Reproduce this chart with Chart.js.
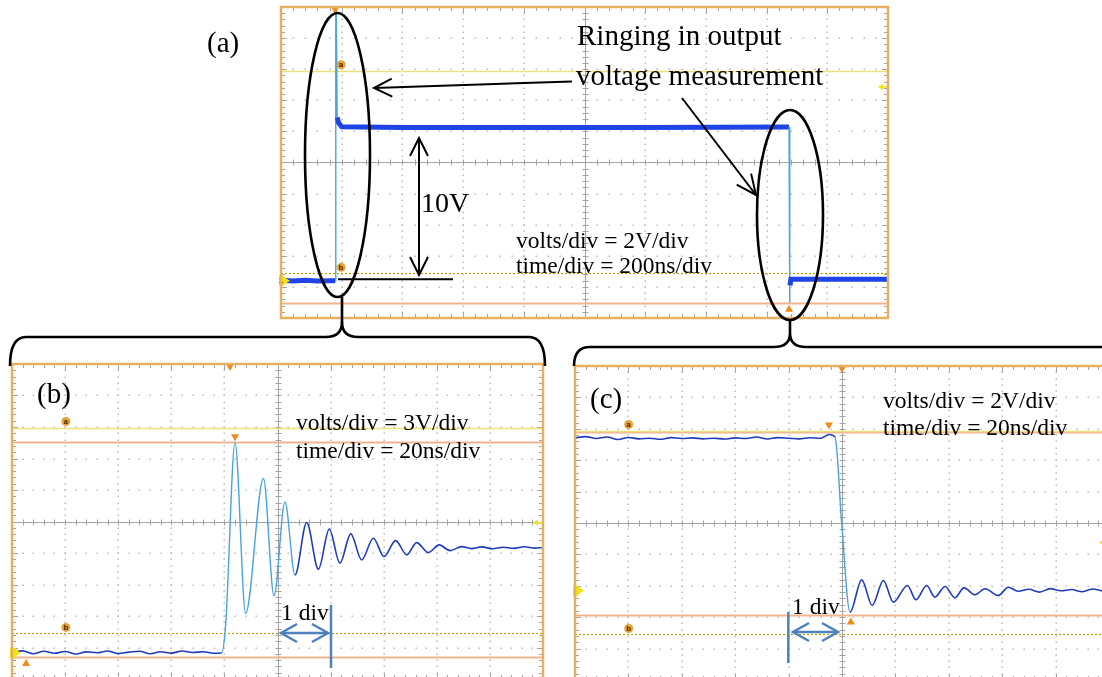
<!DOCTYPE html>
<html>
<head>
<meta charset="utf-8">
<script src="https://cdn.jsdelivr.net/npm/chart.js@4.4.0/dist/chart.umd.min.js"></script>
<style>
  html, body { margin: 0; padding: 0; background: #fff; }
  body { width: 1102px; height: 677px; position: relative; overflow: hidden; }
  canvas { position: absolute; }
  #ann { position: absolute; left: 0; top: 0; }
  #ann text { font-family: "Liberation Serif", "Times New Roman", serif; fill: #000; }
</style>
</head>
<body>
<canvas id="scopeA" width="611" height="315" style="left:279px;top:5px"></canvas>
<canvas id="scopeB" width="535" height="319" style="left:10px;top:362px"></canvas>
<canvas id="scopeC" width="538" height="318" style="left:573px;top:364px"></canvas>

<svg id="ann" width="1102" height="677">
  <g fill="none" stroke="#000" stroke-width="2.6">
    <ellipse cx="337.5" cy="155" rx="32.5" ry="142"/>
    <ellipse cx="790" cy="215" rx="33" ry="105"/>
    <path d="M342 297 V323"/>
    <path d="M10 366 Q10 337 26 337 H326 Q342 337 342 322 Q342 337 358 337 H529 Q545 337 545 366"/>
    <path d="M790 320 V333"/>
    <path d="M574 366 Q574 347 590 347 H774 Q790 347 790 333 Q790 347 806 347 H1110"/>
  </g>
  <g fill="none" stroke="#000" stroke-width="2">
    <path d="M572 81.5 L374 88"/>
    <path d="M391.7 78.6 L374 88 L392.3 96.6"/>
    <path d="M682 98 L756 195"/>
    <path d="M736.7 184.6 L756 195 L751.1 173.6"/>
    <path d="M419 138 V275"/>
    <path d="M410 156 L419 138 L428 156"/>
    <path d="M410 257 L419 275 L428 257"/>
    <path d="M338 279.3 H453"/>
  </g>
  <g fill="none" stroke="#4f81bd" stroke-width="2.5">
    <path d="M331 605 V668"/>
    <path d="M281 633 H328"/>
    <path d="M297 624 L281 633 L297 642"/>
    <path d="M312 624 L328 633 L312 642"/>
    <path d="M788.3 612 V663"/>
    <path d="M793 632 H838"/>
    <path d="M809 623 L793 632 L809 641"/>
    <path d="M822 623 L838 632 L822 641"/>
  </g>
  <text x="207" y="52" font-size="29">(a)</text>
  <text x="577" y="45" font-size="29">Ringing in output</text>
  <text x="576" y="85" font-size="29">voltage measurement</text>
  <text x="421" y="212" font-size="28">10V</text>
  <text x="516" y="248" font-size="23.5">volts/div = 2V/div</text>
  <text x="516" y="273" font-size="23.5">time/div = 200ns/div</text>
  <text x="37" y="403" font-size="29">(b)</text>
  <text x="296" y="430" font-size="23.5">volts/div = 3V/div</text>
  <text x="296" y="458" font-size="23.5">time/div = 20ns/div</text>
  <text x="281" y="620" font-size="23.5">1 div</text>
  <text x="590" y="408" font-size="29">(c)</text>
  <text x="883" y="408" font-size="23.5">volts/div = 2V/div</text>
  <text x="883" y="435" font-size="23.5">time/div = 20ns/div</text>
  <text x="792" y="614" font-size="23.5">1 div</text>
</svg>

<script>
// (a) whole pulse: time in ns (200 ns/div), volts (2 V/div)
const aTime = [0, 40, 80, 120, 160, 179, 180.5, 183.5, 185, 190, 200, 400, 800, 1200, 1674, 1675.5, 1677, 1680, 1700, 2000];
const aVolt = [0.02, -0.02, 0.03, -0.02, 0, 0, 20, 14.3, 10.5, 10.15, 9.9, 9.85, 9.85, 9.85, 9.88, -1.4, -0.3, 0.1, 0.1, 0.1];

// (b) rising edge: 20 ns/div, 3 V/div
const bTime = [0, 4, 8, 12, 16, 20, 24, 28, 32, 36, 40, 44, 48, 52, 56, 60, 64, 68, 72, 76,
  79, 80.5, 84, 88, 94.7, 98.7, 102.8, 106.6, 111, 115.4, 119.5, 123.5, 127.6, 131.7, 136.1, 140.1,
  144.5, 148.7, 152.4, 156.8, 160.9, 165, 169.4, 173, 177, 181, 185, 189, 193, 197, 200];
const bVolt = [0.05, 0.18, -0.1, 0.15, -0.05, 0.12, -0.12, 0.08, 0, 0.16, -0.08, 0.06, 0.14, -0.1, 0.1, -0.04, 0.16, 0.02, 0.1, -0.05,
  0, 2.8, 20, 3.75, 16.6, 5.43, 14.35, 7.41, 12.4, 7.95, 11.77, 8.53, 11.32, 8.84, 10.91, 9.16,
  10.68, 9.32, 10.49, 9.54, 10.27, 9.73, 10.11, 9.92, 10.08, 9.9, 10.05, 9.94, 10.1, 9.96, 10.02];

// (c) falling edge: 20 ns/div, 2 V/div
const cTime = [0, 4, 8, 12, 16, 20, 24, 28, 32, 36, 40, 44, 48, 52, 56, 60, 64, 68, 72, 76, 80, 84, 88, 92,
  95.2, 97.4, 99.9, 103, 107.4, 111.3, 115.5, 119.2, 124.5, 127.7, 131.7, 134.8, 138.6, 142.3, 145.7,
  149.8, 153.6, 158.5, 162.3, 166, 170, 174, 178, 182, 186, 190, 194, 198, 200];
const cVolt = [9.72, 9.8, 9.68, 9.78, 9.62, 9.75, 9.66, 9.7, 9.63, 9.74, 9.68, 9.72, 9.66, 9.7, 9.65, 9.72, 9.68, 9.78, 9.65, 9.74, 9.7, 9.66, 9.73, 9.7,
  9.94, 9.77, 4.25, -1.38, 0.68, -0.95, 0.64, -0.74, 0.32, -0.59, 0.32, -0.42, 0.26, -0.46, 0.17,
  -0.27, 0.11, -0.32, 0.21, -0.05, 0.08, -0.1, 0.12, -0.02, 0.06, -0.08, 0.1, -0.04, 0.02];

// screen ranges (10 div each way)
const aRange = { x: [0, 2000], y: [-2.4, 17.6] };
const bRange = { x: [0, 200], y: [-2.5, 27.5] };
const cRange = { x: [0, 200], y: [-5.7, 14.3] };

// cursor levels (V)
const aCursors = { solid: [13.5], orange: [-1.42], dotted: [0.47] };
const bCursors = { solid: [21.45], orange: [20.05, -0.4], dotted: [1.84] };
const cCursors = { solid: [10.19], orange: [10.08, -1.59], dotted: [-2.8] };

const C = {
  fast: '#4aa4da', slow: '#1f3cbc', slowA: '#1f44e6',
  yellow: '#ede27a', dotted: '#b3a300', orange: '#f2b390', tri: '#f08a1c',
  tag: '#e8a23a', frame: '#e6b062', dot: '#bcbcbc', axis: '#a2a2a2'
};

const toXY = (xs, ys) => xs.map((t, i) => ({ x: t, y: ys[i] }));
const steep = c => Math.abs(c.p1.y - c.p0.y) > 6 * Math.abs(c.p1.x - c.p0.x) + 4;

function tri(ctx, x, y, up) {
  ctx.fillStyle = C.tri;
  ctx.beginPath();
  if (up) { ctx.moveTo(x - 4, y + 3); ctx.lineTo(x + 4, y + 3); ctx.lineTo(x, y - 4); }
  else { ctx.moveTo(x - 4, y - 3); ctx.lineTo(x + 4, y - 3); ctx.lineTo(x, y + 4); }
  ctx.closePath(); ctx.fill();
}

function tag(ctx, x, y, ch) {
  ctx.fillStyle = C.tag;
  ctx.beginPath(); ctx.arc(x, y, 4.5, 0, Math.PI * 2); ctx.fill();
  ctx.fillStyle = '#5a3000';
  ctx.font = 'bold 7px "DejaVu Sans"';
  ctx.textAlign = 'center'; ctx.textBaseline = 'middle';
  ctx.fillText(ch, x, y + 0.5);
}

function scopePlugin(cfg) {
  return {
    id: 'scope',
    beforeDatasetsDraw(chart) {
      const { ctx, chartArea: ca, scales: { x, y } } = chart;
      const X = i => x.getPixelForValue(x.min + i * (x.max - x.min) / 10);
      const Y = j => y.getPixelForValue(y.max - j * (y.max - y.min) / 10);
      ctx.save();
      ctx.fillStyle = C.dot;
      for (let i = 1; i < 10; i++) {
        if (i === 5) continue;
        for (let k = 1; k < 50; k++) {
          ctx.fillRect(Math.round(X(i)) - 0.5, Math.round(Y(k / 5)) - 0.5, 1.5, 1.5);
          ctx.fillRect(Math.round(X(k / 5)) - 0.5, Math.round(Y(i)) - 0.5, 1.5, 1.5);
        }
      }
      const cx = Math.round(X(5)) + 0.5, cy = Math.round(Y(5)) + 0.5;
      ctx.strokeStyle = C.axis; ctx.lineWidth = 1;
      ctx.beginPath();
      ctx.moveTo(ca.left, cy); ctx.lineTo(ca.right, cy);
      ctx.moveTo(cx, ca.top); ctx.lineTo(cx, ca.bottom);
      for (let k = 1; k < 50; k++) {
        const px = Math.round(X(k / 5)) + 0.5, py = Math.round(Y(k / 5)) + 0.5;
        const L = k % 5 === 0 ? 6 : 4;
        ctx.moveTo(px, cy - 3); ctx.lineTo(px, cy + 3);
        ctx.moveTo(cx - 3, py); ctx.lineTo(cx + 3, py);
        ctx.moveTo(px, ca.top); ctx.lineTo(px, ca.top + L);
        ctx.moveTo(px, ca.bottom); ctx.lineTo(px, ca.bottom - L);
        ctx.moveTo(ca.left, py); ctx.lineTo(ca.left + L, py);
        ctx.moveTo(ca.right, py); ctx.lineTo(ca.right - L, py);
      }
      ctx.stroke();

      const hline = (v, color, w, dash) => {
        const py = Math.round(y.getPixelForValue(v)) + 0.5;
        ctx.strokeStyle = color; ctx.lineWidth = w; ctx.setLineDash(dash);
        ctx.beginPath(); ctx.moveTo(ca.left, py); ctx.lineTo(ca.right, py); ctx.stroke();
      };
      cfg.cursors.orange.forEach(v => hline(v, C.orange, 2, []));
      cfg.cursors.solid.forEach(v => hline(v, C.yellow, 1.5, []));
      cfg.cursors.dotted.forEach(v => hline(v, C.dotted, 1.2, [2, 2]));
      ctx.setLineDash([]);
      ctx.restore();
    },
    afterDatasetsDraw(chart) {
      const { ctx, chartArea: ca, scales: { x, y } } = chart;
      ctx.save();
      tag(ctx, x.getPixelForValue(cfg.tagTime), y.getPixelForValue(cfg.cursors.solid[0]) - 6, 'a');
      tag(ctx, x.getPixelForValue(cfg.tagTime), y.getPixelForValue(cfg.cursors.dotted[0]) - 6, 'b');
      tri(ctx, x.getPixelForValue(cfg.trigTime), ca.top + 3, false);
      if (cfg.peakTri) tri(ctx, x.getPixelForValue(cfg.peakTri[0]), y.getPixelForValue(cfg.peakTri[1]) - 5, false);
      tri(ctx, x.getPixelForValue(cfg.lowTri[0]), y.getPixelForValue(cfg.lowTri[1]) + 6, true);

      // channel ground marker (left) and trigger level marker (right)
      const gy = y.getPixelForValue(0);
      ctx.fillStyle = '#f4e20a';
      ctx.beginPath(); ctx.arc(ca.left, gy, 5.5, 0, Math.PI * 2); ctx.fill();
      ctx.beginPath(); ctx.moveTo(ca.left + 4, gy - 3); ctx.lineTo(ca.left + 9, gy); ctx.lineTo(ca.left + 4, gy + 3); ctx.fill();
      if (cfg.chLabel) {
        ctx.fillStyle = '#333'; ctx.font = 'bold 7px "DejaVu Sans"';
        ctx.textAlign = 'center'; ctx.textBaseline = 'middle';
        ctx.fillText('1', ca.left, gy + 0.5);
      }
      const ty = y.getPixelForValue(cfg.trigLevel), tx = ca.right - 10;
      ctx.fillStyle = '#f2e21a';
      ctx.beginPath(); ctx.moveTo(tx, ty); ctx.lineTo(tx + 5, ty - 3); ctx.lineTo(tx + 5, ty + 3); ctx.fill();
      ctx.fillRect(tx + 4, ty - 0.75, 5, 1.5);

      ctx.strokeStyle = C.frame; ctx.lineWidth = 2.5;
      ctx.strokeRect(ca.left, ca.top, ca.right - ca.left, ca.bottom - ca.top);
      ctx.restore();
    }
  };
}

function makeScope(id, time, volt, range, cfg, slowColor, slowWidth, smooth) {
  new Chart(document.getElementById(id), {
    type: 'line',
    data: {
      datasets: [{
        data: toXY(time, volt),
        pointRadius: 0,
        tension: 0,
        cubicInterpolationMode: smooth ? 'monotone' : 'default',
        borderColor: slowColor,
        borderWidth: slowWidth,
        segment: {
          borderColor: c => steep(c) ? C.fast : slowColor,
          borderWidth: c => steep(c) ? 1.4 : slowWidth
        }
      }]
    },
    options: {
      responsive: false,
      animation: false,
      events: [],
      layout: { padding: 2 },
      plugins: { legend: { display: false }, tooltip: { enabled: false } },
      scales: {
        x: { type: 'linear', display: false, min: range.x[0], max: range.x[1] },
        y: { type: 'linear', display: false, min: range.y[0], max: range.y[1] }
      }
    },
    plugins: [scopePlugin(cfg)]
  });
}

makeScope('scopeA', aTime, aVolt, aRange,
  { cursors: aCursors, tagTime: 198, trigTime: 178, lowTri: [1674, -1.42], trigLevel: 12.46, chLabel: true },
  C.slowA, 5, false);
makeScope('scopeB', bTime, bVolt, bRange,
  { cursors: bCursors, tagTime: 20.3, trigTime: 82.1, peakTri: [84, 20.05], lowTri: [5.3, -0.4], trigLevel: 12.37 },
  C.slow, 1.6, true);
makeScope('scopeC', cTime, cVolt, cRange,
  { cursors: cCursors, tagTime: 20.1, trigTime: 100, peakTri: [95.1, 10.19], lowTri: [103.3, -1.59], trigLevel: 3.06 },
  C.slow, 1.6, true);
</script>
</body>
</html>
